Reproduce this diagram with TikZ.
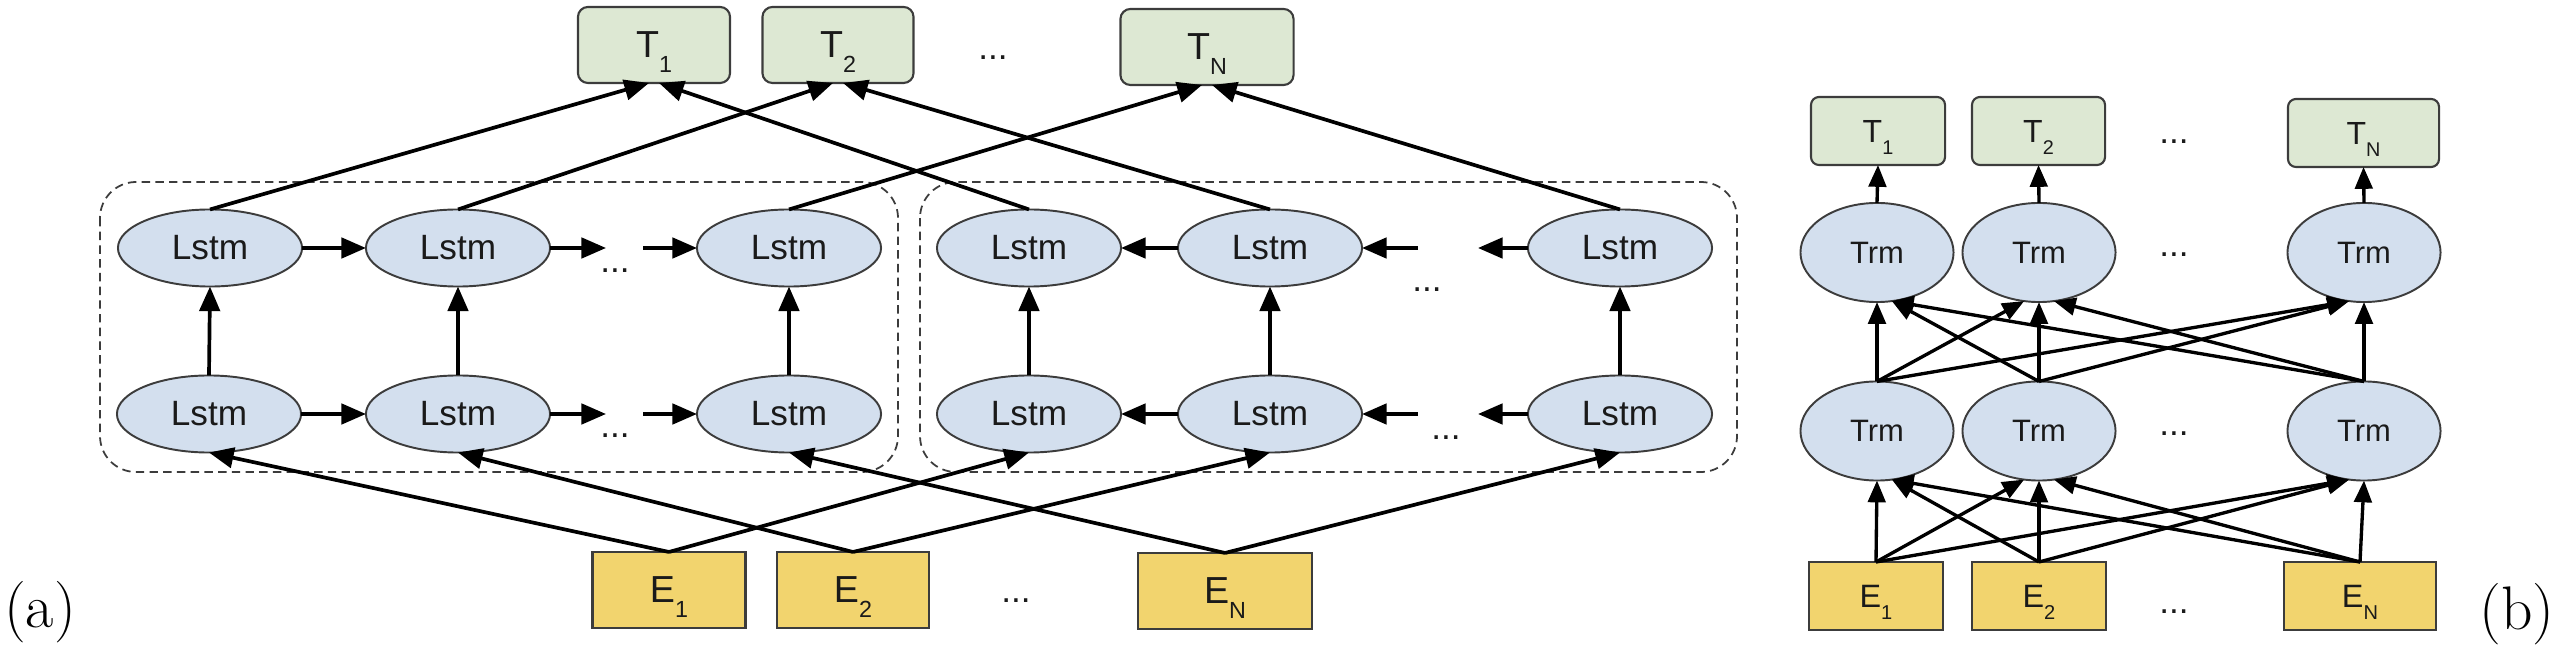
\documentclass[tikz,border=0pt]{standalone}
\usepackage{fontspec}
\setsansfont{Liberation Sans}
\usetikzlibrary{arrows.meta,calc,shapes.geometric}
\definecolor{tfill}{HTML}{DDE8D3}
\definecolor{efill}{HTML}{F2D46E}
\definecolor{lfill}{HTML}{D3DFEE}
\definecolor{bord}{HTML}{3C3C3C}
\definecolor{txt}{HTML}{1A1A1A}
\newcommand\lbl[2]{#1\raisebox{-0.38em}{\scalebox{0.62}{#2}}}
\begin{document}
\begin{tikzpicture}[x=0.01cm,y=-0.01cm,
  every node/.style={inner sep=0pt,outer sep=0pt,text=txt},
  lstm/.style={ellipse,draw=bord,line width=0.55pt,fill=lfill,minimum width=1.84cm,minimum height=0.77cm,font=\sffamily\fontsize{10}{12}\selectfont},
  trm/.style={ellipse,draw=bord,line width=0.55pt,fill=lfill,minimum width=1.53cm,minimum height=0.99cm,font=\sffamily\fontsize{8.8}{10}\selectfont},
  tboxa/.style={rectangle,rounded corners=0.1cm,draw=bord,line width=0.6pt,fill=tfill,minimum height=0.76cm,text depth=0pt,font=\sffamily\fontsize{10.7}{12}\selectfont},
  eboxa/.style={rectangle,draw=bord,line width=0.65pt,fill=efill,minimum height=0.76cm,text depth=0pt,font=\sffamily\fontsize{10.7}{12}\selectfont},
  tboxb/.style={rectangle,rounded corners=0.08cm,draw=bord,line width=0.6pt,fill=tfill,minimum height=0.68cm,text depth=0pt,font=\sffamily\fontsize{9.1}{11}\selectfont},
  eboxb/.style={rectangle,draw=bord,line width=0.65pt,fill=efill,minimum height=0.68cm,text depth=0pt,font=\sffamily\fontsize{9.2}{11}\selectfont},
  dots/.style={font=\sffamily\fontsize{10}{12}\selectfont},
  captxt/.style={font=\rmfamily\fontsize{17.5}{20}\selectfont,text=black},
  arr/.style={-{Triangle[length=7pt,width=5.8pt]},line width=1.05pt,black},
  arrb/.style={-{Triangle[length=6.2pt,width=5pt]},line width=0.95pt,black},
  dbox/.style={draw=bord,line width=0.5pt,dash pattern=on 2.4pt off 1.5pt,rounded corners=0.36cm}
]
\useasboundingbox (0,0) rectangle (2560,655);

% ---------------- (a) ----------------
\draw[dbox] (100,182) rectangle (898,472);
\draw[dbox] (920,182) rectangle (1737,472);

\node[tboxa,minimum width=1.52cm] (T1) at (654,45) {\lbl{T}{1}};
\node[tboxa,minimum width=1.51cm] (T2) at (838,45) {\lbl{T}{2}};
\node[tboxa,minimum width=1.73cm] (TN) at (1207,47) {\lbl{T}{N}};
\node[dots] (td) at (993,58) {...};

\node[lstm] (F1t) at (210,248) {Lstm};
\node[lstm] (F2t) at (458,248) {Lstm};
\node[lstm] (F3t) at (789,248) {Lstm};
\node[lstm] (F1b) at (209,414) {Lstm};
\node[lstm] (F2b) at (458,414) {Lstm};
\node[lstm] (F3b) at (789,414) {Lstm};
\node[dots] (fdt) at (615,271) {...};
\node[dots] (fdb) at (615,436) {...};

\node[lstm] (B1t) at (1029,248) {Lstm};
\node[lstm] (B2t) at (1270,248) {Lstm};
\node[lstm] (B3t) at (1620,248) {Lstm};
\node[lstm] (B1b) at (1029,414) {Lstm};
\node[lstm] (B2b) at (1270,414) {Lstm};
\node[lstm] (B3b) at (1620,414) {Lstm};
\node[dots] (bdt) at (1427,290) {...};
\node[dots] (bdb) at (1446,438) {...};

\node[eboxa,minimum width=1.53cm] (E1) at (669,590) {\lbl{E}{1}};
\node[eboxa,minimum width=1.52cm] (E2) at (853,590) {\lbl{E}{2}};
\node[eboxa,minimum width=1.74cm] (EN) at (1225,591) {\lbl{E}{N}};
\node[dots] (ed) at (1016,601) {...};

\node[captxt] (capa) at (40,612) {(a)};

% horizontal forward
\coordinate (fta) at (606,248);
\coordinate (ftb) at (643,248);
\coordinate (fba) at (606,414);
\coordinate (fbb) at (643,414);
\draw[arr] (F1t.east) -- (F2t.west);
\draw[arr] (F2t.east) -- (fta);
\draw[arr] (ftb) -- (F3t.west);
\draw[arr] (F1b.east) -- (F2b.west);
\draw[arr] (F2b.east) -- (fba);
\draw[arr] (fbb) -- (F3b.west);
% horizontal backward
\coordinate (bta) at (1418,248);
\coordinate (btb) at (1478,248);
\coordinate (bba) at (1418,414);
\coordinate (bbb) at (1478,414);
\draw[arr] (B2t.west) -- (B1t.east);
\draw[arr] (bta) -- (B2t.east);
\draw[arr] (B3t.west) -- (btb);
\draw[arr] (B2b.west) -- (B1b.east);
\draw[arr] (bba) -- (B2b.east);
\draw[arr] (B3b.west) -- (bbb);
% vertical
\foreach \n in {F1,F2,F3,B1,B2,B3}{\draw[arr] (\n b.north) -- (\n t.south);}
% to outputs
\draw[arr] (F1t.north) -- ($(T1.south)+(-5,0)$);
\draw[arr] (F2t.north) -- ($(T2.south)+(-5,0)$);
\draw[arr] (F3t.north) -- ($(TN.south)+(-5,0)$);
\draw[arr] (B1t.north) -- ($(T1.south)+(5,0)$);
\draw[arr] (B2t.north) -- ($(T2.south)+(5,0)$);
\draw[arr] (B3t.north) -- ($(TN.south)+(5,0)$);
% from inputs
\draw[arr] (E1.north) -- (F1b.south);
\draw[arr] (E2.north) -- (F2b.south);
\draw[arr] (EN.north) -- (F3b.south);
\draw[arr] (E1.north) -- (B1b.south);
\draw[arr] (E2.north) -- (B2b.south);
\draw[arr] (EN.north) -- (B3b.south);

% ---------------- (b) ----------------
\node[tboxb,minimum width=1.34cm] (U1) at (1878,131) {\lbl{T}{1}};
\node[tboxb,minimum width=1.33cm] (U2) at (2038.5,131) {\lbl{T}{2}};
\node[tboxb,minimum width=1.51cm] (UN) at (2363.5,133) {\lbl{T}{N}};
\node[dots] (ud) at (2174,142) {...};

\node[trm] (R1) at (1877,252.5) {Trm};
\node[trm] (R2) at (2039,252.5) {Trm};
\node[trm] (RN) at (2364,252.5) {Trm};
\node[dots] (rd) at (2174,255) {...};

\node[trm] (S1) at (1877,431) {Trm};
\node[trm] (S2) at (2039,431) {Trm};
\node[trm] (SN) at (2364,431) {Trm};
\node[dots] (sd) at (2174,434) {...};

\node[eboxb,minimum width=1.34cm] (G1) at (1876,596) {\lbl{E}{1}};
\node[eboxb,minimum width=1.34cm] (G2) at (2039,596) {\lbl{E}{2}};
\node[eboxb,minimum width=1.52cm] (GN) at (2360,596) {\lbl{E}{N}};
\node[dots] (gd) at (2174,612) {...};

\node[captxt] (capb) at (2517,614) {(b)};

\draw[arrb] (R1.north) -- (U1.south);
\draw[arrb] (R2.north) -- (U2.south);
\draw[arrb] (RN.north) -- (UN.south);

% lower Trm -> upper Trm
\draw[arrb] (S1.north) -- (R1.south);
\draw[arrb] (S1.north) -- (R2.-107);
\draw[arrb] (S1.north) -- (RN.-107);
\draw[arrb] (S2.north) -- (R1.-73);
\draw[arrb] (S2.north) -- (R2.south);
\draw[arrb] (S2.north) -- (RN.-107);
\draw[arrb] (SN.north) -- (R1.-73);
\draw[arrb] (SN.north) -- (R2.-73);
\draw[arrb] (SN.north) -- (RN.south);
% inputs -> lower Trm
\draw[arrb] (G1.north) -- (S1.south);
\draw[arrb] (G1.north) -- (S2.-107);
\draw[arrb] (G1.north) -- (SN.-107);
\draw[arrb] (G2.north) -- (S1.-73);
\draw[arrb] (G2.north) -- (S2.south);
\draw[arrb] (G2.north) -- (SN.-107);
\draw[arrb] (GN.north) -- (S1.-73);
\draw[arrb] (GN.north) -- (S2.-73);
\draw[arrb] (GN.north) -- (SN.south);
\end{tikzpicture}
\end{document}
